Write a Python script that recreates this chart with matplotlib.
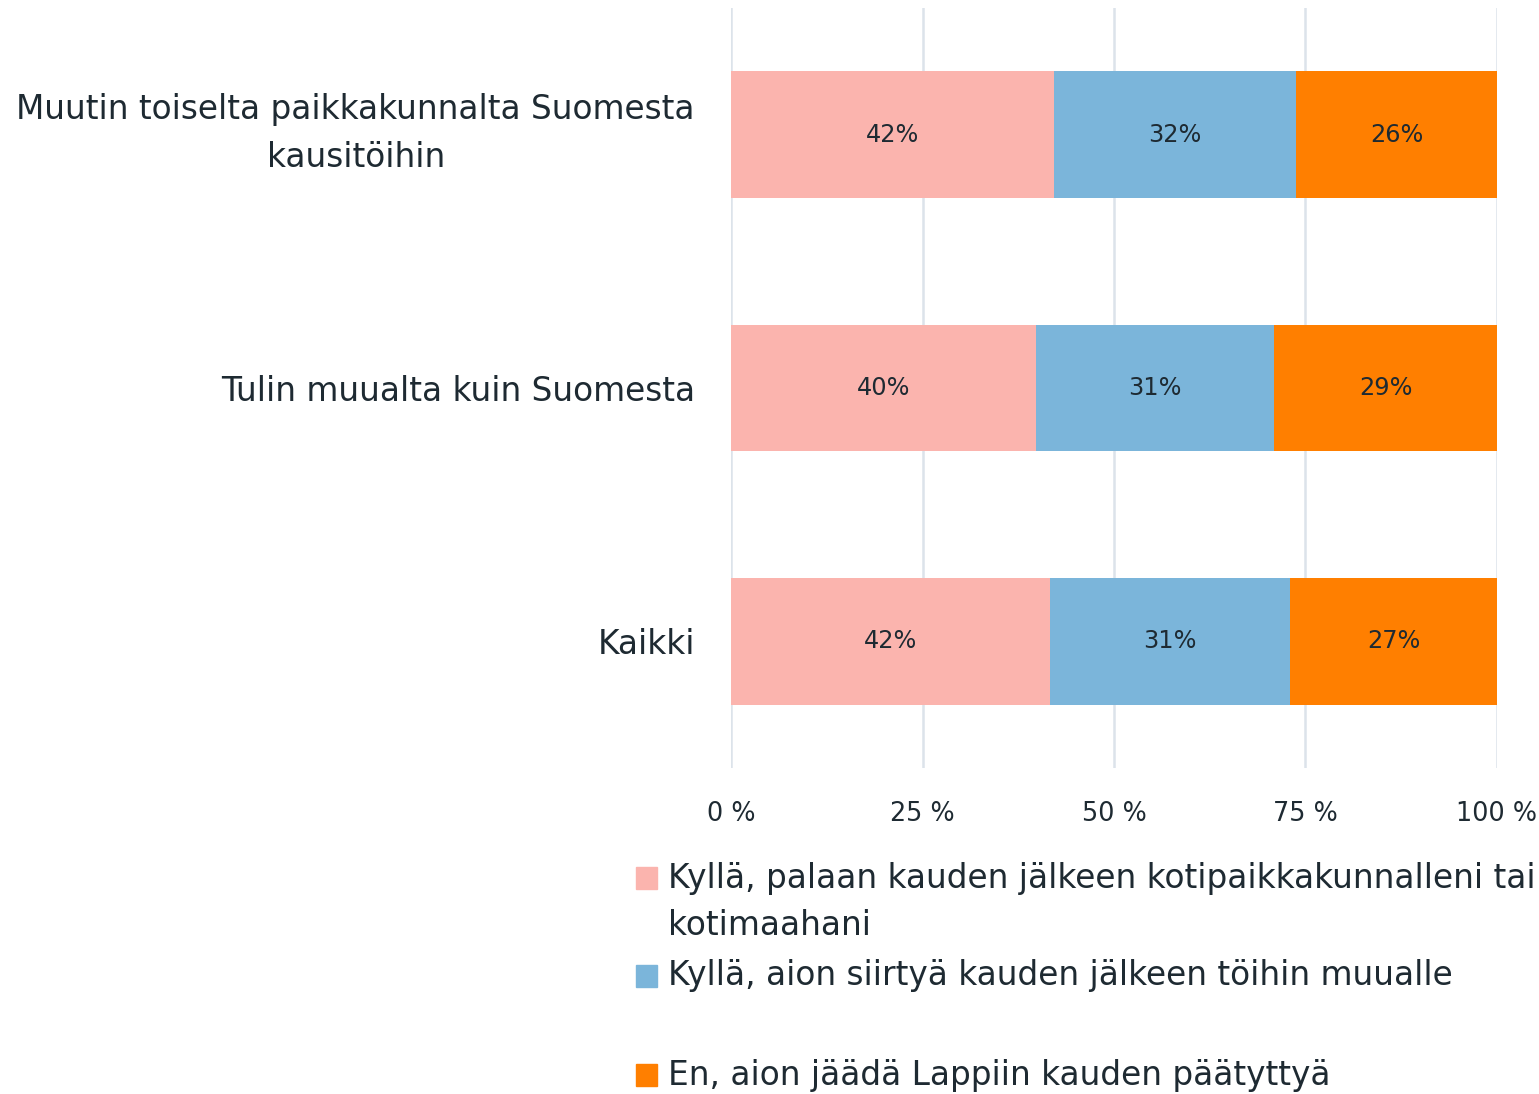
import matplotlib
matplotlib.use("Agg")
import matplotlib.pyplot as plt
from matplotlib.patches import Rectangle
from matplotlib.transforms import ScaledTranslation

categories = ["Kaikki", "Tulin muualta kuin Suomesta", "Muutin toiselta paikkakunnalta Suomesta\nkausitöihin"]
palaa = [41.6, 39.8, 42.2]
siirtyy = [31.4, 31.1, 31.6]
jaa = [27.0, 29.1, 26.2]
labels_palaa = ["42%", "40%", "42%"]
labels_siirtyy = ["31%", "31%", "32%"]
labels_jaa = ["27%", "29%", "26%"]
series_names = ["Kyllä, palaan kauden jälkeen kotipaikkakunnalleni tai\nkotimaahani",
                "Kyllä, aion siirtyä kauden jälkeen töihin muualle",
                "En, aion jäädä Lappiin kauden päätyttyä"]
ticks = [0, 25, 50, 75, 100]
tick_labels = ["0 %", "25 %", "50 %", "75 %", "100 %"]

colors = ["#FBB4AE", "#7BB5DA", "#FF7F00"]
txt = "#1E2A32"
plt.rcParams['font.family'] = ['DejaVu Sans']

W, H = 1539, 1094
fig = plt.figure(figsize=(W / 100, H / 100), dpi=100)
ax = fig.add_axes([731 / W, 1 - 768 / H, (1497 - 731) / W, (768 - 8) / H])

y = list(range(len(categories)))
left = [0] * 3
for vals, labs, c in zip([palaa, siirtyy, jaa], [labels_palaa, labels_siirtyy, labels_jaa], colors):
    bars = ax.barh(y, vals, left=left, height=0.5, color=c, zorder=2)
    for b, lab in zip(bars, labs):
        ax.text(b.get_x() + b.get_width() / 2, b.get_y() + b.get_height() / 2, lab,
                ha="center", va="center", fontsize=17.3, color=txt, zorder=3)
    left = [l + v for l, v in zip(left, vals)]

ax.set_xlim(0, 100)
ax.set_ylim(-0.5, 2.5)
ax.set_xticks(ticks)
ax.set_xticklabels(tick_labels, fontsize=18.4, color=txt)
ax.set_yticks(y)
ax.set_yticklabels(categories, fontsize=23.6, color=txt, multialignment="center", linespacing=1.57)
ax.tick_params(axis="both", length=0)
ax.tick_params(axis="x", pad=24)
ax.tick_params(axis="y", pad=26)
for s in ax.spines.values():
    s.set_visible(False)
ax.grid(axis="x", color="#DCE3EA", linewidth=1.8, zorder=0)
ax.set_axisbelow(True)

for lbl in ax.get_yticklabels():
    if "\n" in lbl.get_text():
        lbl.set_transform(lbl.get_transform() + ScaledTranslation(0, 12 / 100, fig.dpi_scale_trans))

# legend
legend_y = [878, 976, 1075]
for name, c, ly in zip(series_names, colors, legend_y):
    fig.patches.append(Rectangle((636 / W, 1 - (ly + 11) / H), 21 / W, 22 / H,
                                 transform=fig.transFigure, color=c, figure=fig))
    if "\n" in name:
        fig.text(668 / W, 1 - (ly - 16) / H, name, ha="left", va="top",
                 fontsize=23.6, color=txt, linespacing=1.55)
    else:
        fig.text(668 / W, 1 - ly / H, name, ha="left", va="center",
                 fontsize=23.6, color=txt)

fig.savefig("out.png", dpi=100, facecolor="white")
